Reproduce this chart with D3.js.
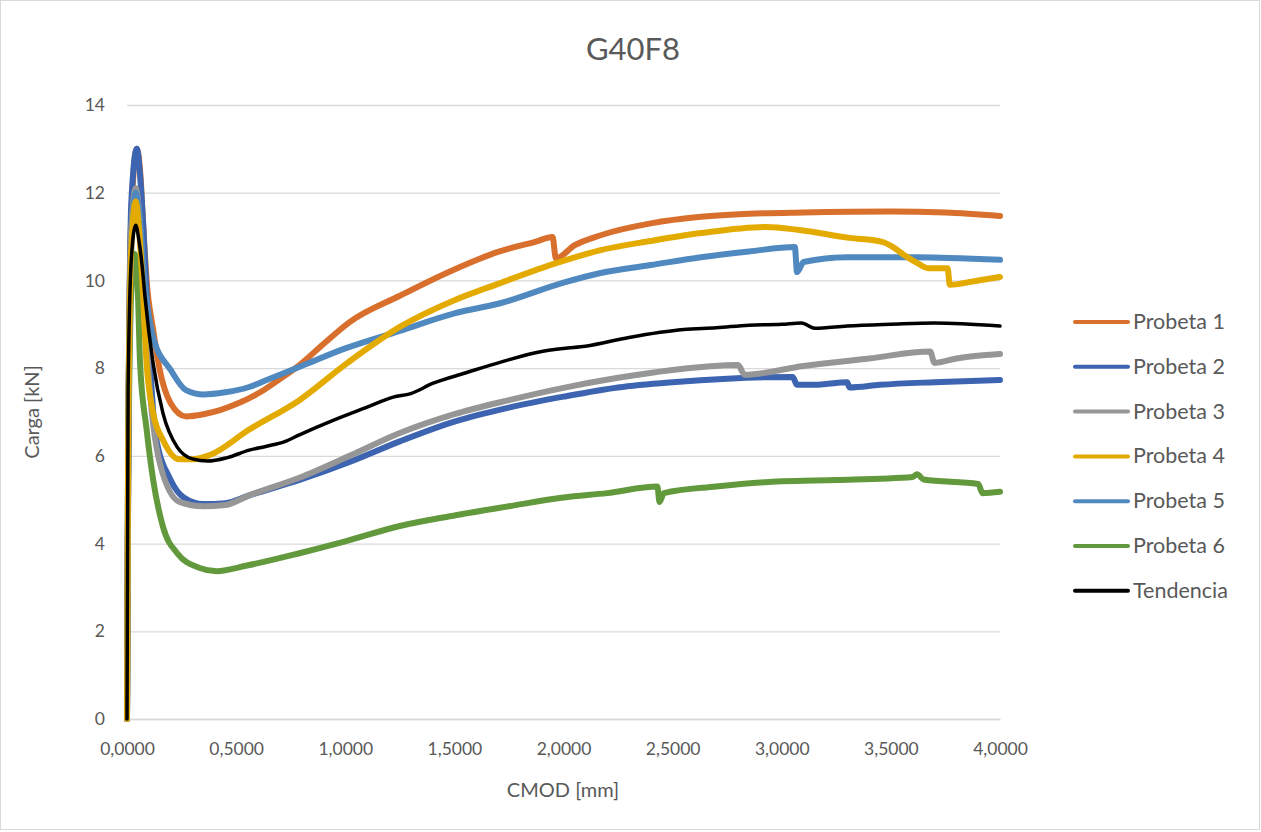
<!DOCTYPE html>
<html><head><meta charset="utf-8">
<script src="https://cdn.jsdelivr.net/npm/d3@7"></script>
<style>body{margin:0;background:#fff;} svg{display:block;font-family:Lato,"Open Sans",sans-serif;}</style>
</head><body><svg id="c" width="1261" height="832"></svg>
<script>
const title = "G40F8";
const xLabel = "CMOD [mm]";
const yLabel = "Carga [kN]";
const xTicks = [0, 0.5, 1.0, 1.5, 2.0, 2.5, 3.0, 3.5, 4.0];
const yTicks = [0, 2, 4, 6, 8, 10, 12, 14];
const seriesNames = ["Probeta 1","Probeta 2","Probeta 3","Probeta 4","Probeta 5","Probeta 6","Tendencia"];
const seriesColors = ["#d86f2c","#3d64b0","#969696","#e3aa00","#5089bf","#62993c","#000000"];

const probeta1 = [[0,0],[0.006,6],[0.02,11.5],[0.045,13.0],[0.06,12.5],[0.075,11.2],[0.09,10.0],[0.12,8.87],[0.15,7.96],[0.2,7.2],[0.27,6.9],[0.35,6.95],[0.43,7.05],[0.52,7.22],[0.61,7.45],[0.7,7.75],[0.79,8.07],[0.9,8.55],[1.02,9.05],[1.25,9.65],[1.5,10.25],[1.7,10.65],[1.87,10.88],[1.95,10.99],[1.965,10.5],[2.05,10.8],[2.17,11.03],[2.4,11.3],[2.63,11.45],[2.85,11.52],[3.1,11.55],[3.5,11.57],[3.75,11.55],[4.0,11.47]];
const probeta2 = [[0,0],[0.006,6],[0.02,11.8],[0.045,13.0],[0.06,12.4],[0.075,11.2],[0.1,8.6],[0.13,6.5],[0.2,5.45],[0.26,5.05],[0.35,4.9],[0.45,4.92],[0.56,5.1],[0.79,5.45],[1.02,5.86],[1.25,6.33],[1.5,6.78],[1.75,7.1],[2.0,7.35],[2.25,7.56],[2.5,7.68],[2.75,7.76],[3.05,7.8],[3.07,7.62],[3.15,7.62],[3.3,7.68],[3.31,7.56],[3.45,7.62],[3.7,7.68],[4.0,7.73]];
const probeta3 = [[0,0],[0.005,6],[0.02,11.2],[0.04,12.1],[0.055,11.6],[0.075,10.0],[0.1,7.8],[0.15,5.84],[0.24,4.95],[0.35,4.85],[0.45,4.88],[0.56,5.1],[0.79,5.5],[1.02,6.0],[1.25,6.52],[1.5,6.95],[1.75,7.27],[2.0,7.55],[2.25,7.78],[2.5,7.96],[2.8,8.07],[2.83,7.85],[3.1,8.05],[3.4,8.22],[3.68,8.38],[3.7,8.12],[3.8,8.22],[4.0,8.32]];
const probeta4 = [[0,0],[0.005,6],[0.02,10.8],[0.04,11.8],[0.055,11.2],[0.07,10.0],[0.09,8.1],[0.12,6.97],[0.165,6.36],[0.24,5.92],[0.3,5.92],[0.38,6.02],[0.56,6.6],[0.79,7.27],[1.01,8.12],[1.25,8.94],[1.5,9.55],[1.71,9.94],[1.97,10.4],[2.17,10.69],[2.4,10.9],[2.63,11.08],[2.93,11.22],[3.08,11.15],[3.31,10.97],[3.46,10.88],[3.51,10.76],[3.56,10.58],[3.62,10.4],[3.67,10.28],[3.76,10.28],[3.77,9.9],[3.9,10.0],[4.0,10.08]];
const probeta5 = [[0,0],[0.005,6],[0.02,10.8],[0.04,12.0],[0.06,11.3],[0.08,10.0],[0.1,9.2],[0.12,8.7],[0.2,7.96],[0.27,7.5],[0.35,7.4],[0.45,7.45],[0.56,7.57],[0.64,7.73],[0.8,8.05],[1.0,8.45],[1.25,8.85],[1.5,9.25],[1.71,9.48],[2.0,9.95],[2.17,10.17],[2.4,10.35],[2.63,10.53],[2.85,10.66],[3.06,10.76],[3.07,10.19],[3.1,10.42],[3.3,10.53],[3.6,10.53],[4.0,10.47]];
const probeta6 = [[0,0],[0.005,5],[0.02,9.8],[0.035,10.6],[0.05,9.7],[0.06,8.1],[0.09,6.6],[0.12,5.45],[0.165,4.38],[0.23,3.78],[0.33,3.45],[0.41,3.37],[0.55,3.5],[0.79,3.78],[1.0,4.05],[1.25,4.4],[1.5,4.64],[1.75,4.85],[2.0,5.05],[2.2,5.15],[2.43,5.3],[2.44,4.95],[2.46,5.15],[2.7,5.3],[3.0,5.42],[3.25,5.45],[3.6,5.52],[3.62,5.58],[3.65,5.46],[3.9,5.36],[3.92,5.15],[4.0,5.18]];
const tendencia = [[0,0],[0.005,7.5],[0.02,10.5],[0.04,11.26],[0.055,10.9],[0.07,10.3],[0.083,9.6],[0.12,8.1],[0.165,6.97],[0.23,6.2],[0.3,5.93],[0.37,5.88],[0.46,5.96],[0.56,6.13],[0.64,6.22],[0.72,6.32],[0.79,6.48],[0.95,6.82],[1.1,7.11],[1.22,7.34],[1.3,7.42],[1.4,7.65],[1.55,7.89],[1.72,8.15],[1.9,8.38],[2.0,8.45],[2.1,8.5],[2.3,8.7],[2.55,8.88],[2.7,8.92],[2.85,8.98],[3.0,9.0],[3.09,9.03],[3.15,8.91],[3.3,8.96],[3.5,9.0],[3.7,9.03],[4.0,8.96]];
const allSeries = [probeta1, probeta2, probeta3, probeta4, probeta5, probeta6, tendencia];
const drawOrder = [5, 0, 1, 2, 4, 3, 6];

const svg = d3.select("#c");
const W = 1261, H = 832;
const m = {left:127, right:261, top:105, bottom:113};
const x = d3.scaleLinear().domain([0,4]).range([m.left, W - m.right]);
const y = d3.scaleLinear().domain([0,14]).range([H - m.bottom, m.top]);
const grey = "#595959";

svg.append("rect").attr("x",0.5).attr("y",0.5).attr("width",W-2).attr("height",H-3)
  .attr("fill","#fff").attr("stroke","#d9d9d9");

svg.append("text").attr("x",633).attr("y",60).attr("text-anchor","middle")
  .attr("font-size",31).attr("fill",grey).text(title);

const gy = svg.append("g").attr("transform",`translate(${m.left},0)`)
  .call(d3.axisLeft(y).tickValues(yTicks).tickSize(-(x.range()[1]-m.left)).tickPadding(22).tickFormat(d3.format("d")));
gy.select(".domain").remove();
gy.selectAll(".tick line").attr("stroke","#d9d9d9").attr("stroke-width",1.3);
gy.selectAll(".tick text").attr("font-size",17.5).attr("fill",grey).attr("font-family","Lato, sans-serif");

const gx = svg.append("g").attr("transform",`translate(0,${y(0)})`)
  .call(d3.axisBottom(x).tickValues(xTicks).tickSize(0).tickPadding(24)
    .tickFormat(d => d3.format(".4f")(d).replace(".", ",")));
gx.select(".domain").attr("stroke","#d9d9d9").attr("stroke-width",1.3);
gx.selectAll(".tick text").attr("font-size",17.5).attr("fill",grey).attr("font-family","Lato, sans-serif");

svg.append("text").attr("x",563).attr("y",797).attr("text-anchor","middle")
  .attr("font-size",20).attr("fill",grey).text(xLabel);
svg.append("text").attr("transform",`translate(39,412) rotate(-90)`).attr("text-anchor","middle")
  .attr("font-size",20).attr("fill",grey).text(yLabel);

const line = d3.line().x(d => x(d[0])).y(d => y(d[1])).curve(d3.curveMonotoneX);
drawOrder.forEach(i => {
  svg.append("path").datum(allSeries[i]).attr("d", line).attr("fill","none")
    .attr("stroke", seriesColors[i]).attr("stroke-width", i === 6 ? 3.5 : 6)
    .attr("stroke-linejoin","round").attr("stroke-linecap","round");
});

const leg = svg.append("g");
seriesNames.forEach((n, i) => {
  const yy = 322 + i * 44.8;
  leg.append("line").attr("x1",1075).attr("x2",1128).attr("y1",yy).attr("y2",yy)
    .attr("stroke",seriesColors[i]).attr("stroke-width",4).attr("stroke-linecap","round");
  leg.append("text").attr("x",1133).attr("y",yy+7).attr("font-size",21.5).attr("fill",grey).text(n);
});
</script></body></html>
